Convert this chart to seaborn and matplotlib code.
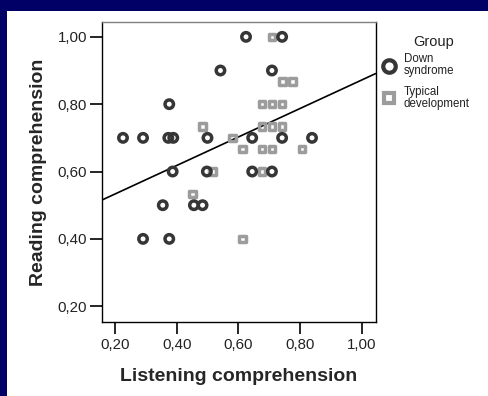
import matplotlib
matplotlib.use("Agg")
import matplotlib.pyplot as plt
from matplotlib.lines import Line2D
from matplotlib.patches import Rectangle
import seaborn as sns
import numpy as np
import pandas as pd

# Down syndrome group (circles)
ds_listening = [0.625, 0.742, 0.542, 0.709, 0.376, 0.226, 0.291, 0.373, 0.389,
                0.500, 0.645, 0.742, 0.839, 0.387, 0.498, 0.645, 0.709,
                0.355, 0.456, 0.484, 0.291, 0.376]
ds_reading = [1.00, 1.00, 0.90, 0.90, 0.80, 0.70, 0.70, 0.70, 0.70,
              0.70, 0.70, 0.70, 0.70, 0.60, 0.60, 0.60, 0.60,
              0.50, 0.50, 0.50, 0.40, 0.40]

# Typical development group (squares)
td_listening = [0.709, 0.743, 0.775, 0.677, 0.709, 0.742, 0.483, 0.677, 0.709,
                0.742, 0.581, 0.613, 0.677, 0.709, 0.806, 0.516, 0.677,
                0.451, 0.613]
td_reading = [1.00, 0.867, 0.867, 0.80, 0.80, 0.80, 0.733, 0.733, 0.733,
              0.733, 0.70, 0.667, 0.667, 0.667, 0.667, 0.60, 0.60,
              0.533, 0.40]

group_names = ["Down syndrome", "Typical development"]
tick_values = [0.20, 0.40, 0.60, 0.80, 1.00]
tick_labels = ["0,20", "0,40", "0,60", "0,80", "1,00"]

df = pd.DataFrame({
    "Listening comprehension": ds_listening + td_listening,
    "Reading comprehension": ds_reading + td_reading,
    "Group": [group_names[0]] * len(ds_listening) + [group_names[1]] * len(td_listening),
})

sns.set_style("ticks")
plt.rcParams["font.family"] = ["Liberation Sans", "DejaVu Sans"]

navy = "#000066"
ds_color = "#363636"
td_color = "#9c9c9c"

fig = plt.figure(figsize=(4.89, 3.96), dpi=100)
fig.patch.set_facecolor(navy)
fig.patches.append(Rectangle((7 / 489, 0), 1, 1 - 11 / 396, transform=fig.transFigure,
                             facecolor="white", edgecolor="none", zorder=-10))

ax = fig.add_axes([0.208, 0.1876, 0.56, 0.7568])
ax.set_facecolor("white")

xlim = (0.157, 1.045)
ylim = (0.154, 1.044)

# linear fit over all cases, drawn across the whole x range
slope, intercept = np.polyfit(df["Listening comprehension"], df["Reading comprehension"], 1)
fit_x = np.array(xlim)
ax.plot(fit_x, intercept + slope * fit_x, color="black", linewidth=1.2, zorder=1)

sub = df[df["Group"] == group_names[1]]
sns.scatterplot(data=sub, x="Listening comprehension", y="Reading comprehension",
                marker="s", s=22, ax=ax, color=td_color, legend=False)
ax.collections[-1].set_facecolor("none")
ax.collections[-1].set_edgecolor(td_color)
ax.collections[-1].set_linewidth(2.5)

sub = df[df["Group"] == group_names[0]]
sns.scatterplot(data=sub, x="Listening comprehension", y="Reading comprehension",
                marker="o", s=37, ax=ax, color=ds_color, legend=False)
ax.collections[-1].set_facecolor("none")
ax.collections[-1].set_edgecolor(ds_color)
ax.collections[-1].set_linewidth(2.5)

ax.set_xlim(*xlim)
ax.set_ylim(*ylim)
ax.set_xticks(tick_values)
ax.set_xticklabels(tick_labels)
ax.set_yticks(tick_values)
ax.set_yticklabels(tick_labels)
ax.tick_params(direction="out", length=8.5, width=1.2, color="black",
               labelsize=10.8, labelcolor="#222222")
ax.tick_params(axis="y", pad=2)
ax.tick_params(axis="x", pad=3.5)

for side in ["left", "bottom", "right"]:
    ax.spines[side].set_color("black")
    ax.spines[side].set_linewidth(1.0)
ax.spines["top"].set_color("#808080")
ax.spines["top"].set_linewidth(1.0)
ax.spines["right"].set_visible(True)
ax.spines["top"].set_visible(True)

ax.set_xlabel("Listening comprehension", fontsize=14, fontweight="bold", labelpad=11)
ax.set_ylabel("Reading comprehension", fontsize=14, fontweight="bold", labelpad=8)

handles = [
    Line2D([], [], linestyle="none", marker="o", markersize=9, markerfacecolor="none",
           markeredgecolor=ds_color, markeredgewidth=3),
    Line2D([], [], linestyle="none", marker="s", markersize=6.5, markerfacecolor="none",
           markeredgecolor=td_color, markeredgewidth=3),
]
fig.text(434 / 489, 1 - 42 / 396, "Group", fontsize=10.5, color="#222222",
         ha="center", va="center")
leg = fig.legend(handles, ["Down\nsyndrome", "Typical\ndevelopment"],
                 loc="upper left", bbox_to_anchor=(0.783, 0.866), frameon=False,
                 fontsize=8.3, handlelength=1.0, handletextpad=0.8,
                 labelspacing=0.75, borderaxespad=0, borderpad=0)
for t in leg.get_texts():
    t.set_linespacing(1.0)
    t.set_color("#222222")

fig.savefig("out.png", dpi=100, facecolor=fig.get_facecolor())
